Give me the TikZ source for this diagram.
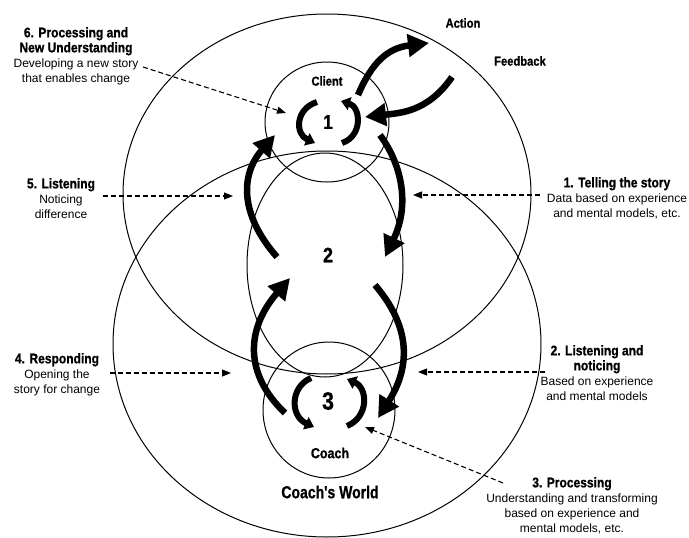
\documentclass[tikz,border=0pt]{standalone}
\usepackage{fontspec}
\setmainfont{Liberation Sans}
\newfontfamily\tfont{Liberation Sans Bold}[FakeStretch=0.86, FakeBold=0.8]
\newfontfamily\wfont{Liberation Sans Bold}[FakeStretch=0.8, FakeBold=0.8]
\usetikzlibrary{arrows.meta}
\newcommand\ttl[1]{{\tfont\fontsize{14}{15}\selectfont #1}}
\tikzset{
  ring/.style={line width=1pt},
  flow/.style={line width=6.5pt, -{Triangle[length=21pt,width=22pt]}},
  spin/.style={line width=6pt, -{Triangle[length=9pt,width=13pt]}},
  pointer/.style={line width=1.1pt, dash pattern=on 5pt off 3pt, -{Triangle[length=9pt,width=7pt]}},
  block/.style={align=center, inner sep=0pt, anchor=north, font=\fontsize{12}{15}\selectfont},
  lbl/.style={inner sep=0pt, font=\tfont\fontsize{13}{15}\selectfont},
  num/.style={inner sep=0pt, font=\tfont},
}
\begin{document}
\begin{tikzpicture}[x=1pt,y=-1pt]
\useasboundingbox[fill=white] (0,0) rectangle (689,538);
% worlds and circles
\draw[ring] (327,194) ellipse [x radius=204pt, y radius=180pt];
\draw[ring] (327,344) ellipse [x radius=214pt, y radius=193pt];
\draw[ring] (325,265) ellipse [x radius=78pt, y radius=112pt];
\draw[ring] (327,122) ellipse [x radius=62pt, y radius=60pt];
\draw[ring] (329,410) ellipse [x radius=66pt, y radius=68pt];
% labels inside
\node[lbl] (client) at (327,81) {Client};
\node[lbl, font=\tfont\fontsize{14.5}{16}\selectfont] (coach) at (330,453) {Coach};
\node[inner sep=0pt, font=\wfont\fontsize{17.5}{20}\selectfont] (world) at (330,492) {Coach's World};
\node[num, font=\tfont\fontsize{20}{21}\selectfont] (n1) at (328,122) {1};
\node[num, font=\tfont\fontsize{21}{22}\selectfont] (n2) at (328,255) {2};
\node[num, font=\tfont\fontsize{25}{26}\selectfont] (n3) at (328,401) {3};
\node[lbl] (action) at (463,23) {Action};
\node[lbl] (feedback) at (520,61) {Feedback};
% text blocks
\node[block] (t6) at (76,27) {\ttl{6. Processing and}\\\ttl{New Understanding}\\Developing a new story\\that enables change};
\node[block] (t5) at (61,178) {\ttl{5. Listening}\\Noticing\\difference};
\node[block] (t4) at (57,353) {\ttl{4. Responding}\\Opening the\\story for change};
\node[block] (t1) at (617,177) {\ttl{1. Telling the story}\\Data based on experience\\and mental models, etc.};
\node[block] (t2) at (597,345) {\ttl{2. Listening and}\\\ttl{noticing}\\Based on experience\\and mental models};
\node[block] (t3) at (572,477) {\ttl{3. Processing}\\Understanding and transforming\\based on experience and\\mental models, etc.};
% dashed pointers
\coordinate (p6s) at (143,67);  \coordinate (p6e) at (286,113);
\coordinate (p5s) at (103,196); \coordinate (p5e) at (233,196);
\coordinate (p4s) at (110,373); \coordinate (p4e) at (231,373);
\coordinate (p1s) at (540,195); \coordinate (p1e) at (413,195);
\coordinate (p2s) at (545,372); \coordinate (p2e) at (418,372);
\coordinate (p3s) at (503,483); \coordinate (p3e) at (365,427);
\draw[pointer] (p6s) -- (p6e);
\draw[pointer] (p5s) -- (p5e);
\draw[pointer] (p4s) -- (p4e);
\draw[pointer] (p1s) -- (p1e);
\draw[pointer] (p2s) -- (p2e);
\draw[pointer] (p3s) -- (p3e);
% thick flow arrows
\coordinate (aS) at (358,95);  \coordinate (aE) at (429,43);
\coordinate (bS) at (452,77);  \coordinate (bE) at (365,117);
\coordinate (cS) at (380,135); \coordinate (cE) at (385,257);
\coordinate (dS) at (375,285); \coordinate (dE) at (378,418);
\coordinate (eS) at (285,413); \coordinate (eE) at (290,278);
\coordinate (fS) at (277,257); \coordinate (fE) at (275,135);
\draw[flow] (aS) .. controls (372,62) and (388,48) .. (aE);
\draw[flow] (bS) .. controls (428,112) and (400,113) .. (bE);
\draw[flow] (cS) .. controls (402,165) and (410,205) .. (cE);
\draw[flow] (dS) .. controls (405,320) and (415,360) .. (dE);
\draw[flow] (eS) .. controls (245,375) and (245,330) .. (eE);
\draw[flow] (fS) .. controls (240,215) and (240,175) .. (fE);
% spinning arrows around 1
\coordinate (s1a) at (317,102); \coordinate (s1b) at (315,143);
\coordinate (s1c) at (342,143); \coordinate (s1d) at (341,101);
\draw[spin] (s1a) .. controls (295,109) and (295,134) .. (s1b);
\draw[spin] (s1c) .. controls (363,136) and (361,107) .. (s1d);
% spinning arrows around 3
\coordinate (s3a) at (311,378); \coordinate (s3b) at (314,427);
\coordinate (s3c) at (347,426); \coordinate (s3d) at (347,379);
\draw[spin] (s3a) .. controls (290,387) and (290,416) .. (s3b);
\draw[spin] (s3c) .. controls (369,417) and (368,388) .. (s3d);
\end{tikzpicture}
\end{document}
